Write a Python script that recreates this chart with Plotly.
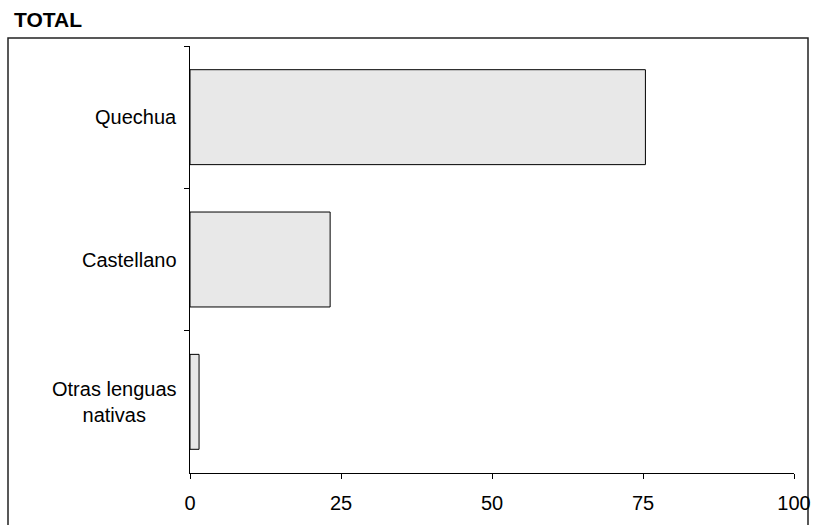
import plotly.graph_objects as go

categories = ["Quechua", "Castellano", "Otras lenguas<br>nativas"]
values = [75.4, 23.2, 1.5]
x_ticks = [0, 25, 50, 75, 100]
title_text = "TOTAL"

W, H = 816, 525
L, R, T, B = 190, 22, 46, 52
pw, ph = W - L - R, H - T - B

def px_to_paper_x(px):
    return (px - L) / pw

def py_to_paper_y(py):
    return (H - B - py) / ph

fig = go.Figure(go.Bar(
    y=categories, x=values, orientation="h",
    width=0.667,
    marker=dict(color="#e8e8e8", line=dict(color="#000000", width=1)),
    hoverinfo="x+y",
))

annotations = [dict(text="<b>" + title_text + "</b>", xref="paper", yref="paper",
                    x=px_to_paper_x(12), y=py_to_paper_y(20), xanchor="left",
                    yanchor="middle", showarrow=False, font=dict(size=21, color="#000000"))]
for c in categories:
    annotations.append(dict(text=c, xref="paper", yref="y", x=px_to_paper_x(179), y=c,
                            xanchor="right", yanchor="middle", align="center",
                            showarrow=False, font=dict(size=20, color="#000000")))

fig.update_layout(
    width=W, height=H,
    margin=dict(l=L, r=R, t=T, b=B, pad=0, autoexpand=False),
    paper_bgcolor="white", plot_bgcolor="white",
    font=dict(family="Liberation Sans, Arial, sans-serif", size=20, color="#000000"),
    showlegend=False,
    xaxis=dict(range=[0, 100], tickvals=x_ticks, ticktext=[str(v) for v in x_ticks],
               showgrid=False, zeroline=False, showline=True, linecolor="#000000",
               linewidth=1, ticks="outside", ticklen=5, tickcolor="#000000",
               tickfont=dict(size=20), automargin=False, ticklabelstandoff=7),
    yaxis=dict(type="category", categoryorder="array", categoryarray=categories,
               range=[2.5, -0.5], showgrid=False, zeroline=False, showline=True,
               linecolor="#000000", linewidth=1, ticks="outside", ticklen=5,
               tickcolor="#000000", tickson="boundaries", showticklabels=False,
               automargin=False),
    annotations=annotations,
    shapes=[dict(type="rect", xref="paper", yref="paper",
                 x0=px_to_paper_x(8), x1=px_to_paper_x(808),
                 y0=py_to_paper_y(540), y1=py_to_paper_y(38),
                 line=dict(color="#222222", width=1.5), fillcolor="rgba(0,0,0,0)",
                 layer="below")],
)

fig.write_html("out.html", config={"displayModeBar": False},
               post_script="document.body.style.margin='0px';")
